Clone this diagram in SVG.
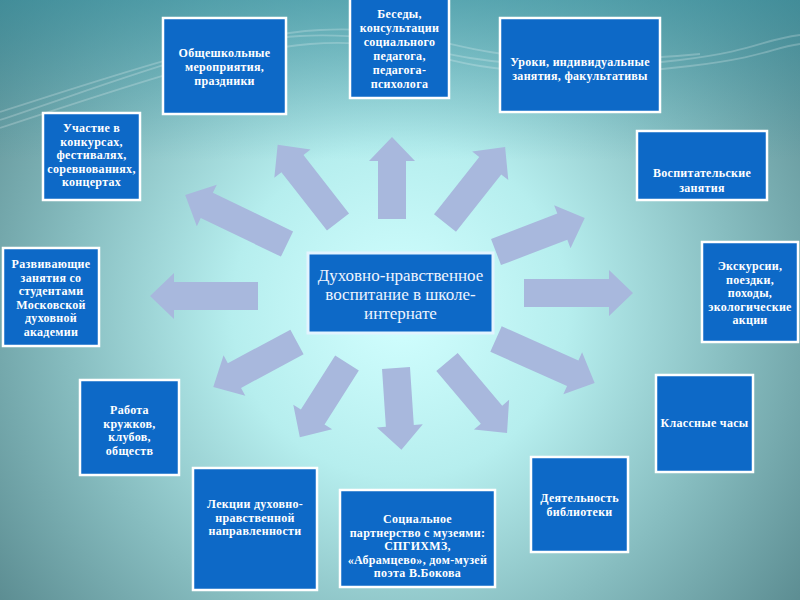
<svg xmlns="http://www.w3.org/2000/svg" width="800" height="600" viewBox="0 0 800 600">
<defs>
<radialGradient id="bg" cx="400" cy="310" r="560" gradientUnits="userSpaceOnUse">
<stop offset="0" stop-color="#d2ffff"/>
<stop offset="0.3" stop-color="#b6eeee"/>
<stop offset="0.6" stop-color="#86bcbf"/>
<stop offset="1" stop-color="#4b7a80"/>
</radialGradient>
<linearGradient id="top" x1="0" y1="0" x2="0" y2="1">
<stop offset="0" stop-color="#2f8fa0" stop-opacity="0.55"/>
<stop offset="1" stop-color="#2f8fa0" stop-opacity="0"/>
</linearGradient>
<style>
.box{fill:#0d69c7;stroke:#ffffff;stroke-width:2.5}
.t{font-family:"Liberation Serif","Times New Roman",serif;font-weight:bold;font-size:12px;letter-spacing:0.3px;fill:#ffffff;text-anchor:middle}
.c{font-family:"Liberation Serif","Times New Roman",serif;font-size:17px;fill:#eef4ff;text-anchor:middle}
.arr{fill:#a8b8dd}
.streak{fill:none;stroke:#ffffff;stroke-opacity:0.22;stroke-width:1.8}
</style>
</defs>
<rect x="0" y="0" width="800" height="600" fill="url(#bg)"/>
<rect x="0" y="0" width="800" height="160" fill="url(#top)"/>
<g id="streaks">
<path class="streak" d="M0,120 C120,80 220,40 300,36 S420,50 470,58 S600,70 680,60 S760,40 800,35"/>
<path class="streak" d="M0,128 C110,92 230,50 310,44 S430,58 480,66 S610,76 690,66 S770,48 800,44" stroke-opacity="0.15"/>
<path class="streak" d="M0,112 C130,70 240,34 320,30 S440,44 490,52 S620,62 700,54" stroke-opacity="0.12"/>
</g>
<g id="connectors">
<path class="arr" transform="translate(392,219) rotate(-90)" d="M0,-14 H58 V-23 L82,0 L58,23 V14 H0 Z"/>
<path class="arr" transform="translate(396,368) rotate(86.2)" d="M0,-14 H58 V-23 L82,0 L58,23 V14 H0 Z"/>
<path class="arr" transform="translate(258,296) rotate(180)" d="M0,-14 H84 V-23 L108,0 L84,23 V14 H0 Z"/>
<path class="arr" transform="translate(524,293)" d="M0,-14 H85 V-23 L109,0 L85,23 V14 H0 Z"/>
<path class="arr" transform="translate(338,222) rotate(232)" d="M0,-14 H74 V-23 L98,0 L74,23 V14 H0 Z"/>
<path class="arr" transform="translate(287,244) rotate(205.7)" d="M0,-14 H89 V-23 L113,0 L89,23 V14 H0 Z"/>
<path class="arr" transform="translate(445,223) rotate(-51.7)" d="M0,-14 H73 V-23 L97,0 L73,23 V14 H0 Z"/>
<path class="arr" transform="translate(496,252) rotate(-20.9)" d="M0,-14 H71 V-23 L95,0 L71,23 V14 H0 Z"/>
<path class="arr" transform="translate(496,339) rotate(24)" d="M0,-14 H84 V-23 L108,0 L84,23 V14 H0 Z"/>
<path class="arr" transform="translate(447,362) rotate(49.8)" d="M0,-14 H69 V-23 L93,0 L69,23 V14 H0 Z"/>
<path class="arr" transform="translate(297,342) rotate(151.8)" d="M0,-14 H71 V-23 L95,0 L71,23 V14 H0 Z"/>
<path class="arr" transform="translate(347,363) rotate(122.4)" d="M0,-14 H64 V-23 L88,0 L64,23 V14 H0 Z"/>
</g>
<g id="center">
<rect x="308" y="253" width="185" height="80" fill="#0d69c7" stroke="#e2f4ff" stroke-width="3"/>
<text class="c" x="400.5" y="281">Духовно-нравственное</text>
<text class="c" x="400.5" y="300">воспитание в школе-</text>
<text class="c" x="400.5" y="319">интернате</text>
</g>
<g id="n-obsh">
<rect class="box" x="163" y="18" width="123" height="96"/>
<text class="t" x="224.5" y="57">Общешкольные</text>
<text class="t" x="224.5" y="71">мероприятия,</text>
<text class="t" x="224.5" y="85">праздники</text>
</g>
<g id="n-besedy">
<rect class="box" x="350" y="-2" width="99" height="100"/>
<text class="t" x="399.5" y="18">Беседы,</text>
<text class="t" x="399.5" y="32">консультации</text>
<text class="t" x="399.5" y="46">социального</text>
<text class="t" x="399.5" y="60">педагога,</text>
<text class="t" x="399.5" y="74">педагога-</text>
<text class="t" x="399.5" y="88">психолога</text>
</g>
<g id="n-uroki">
<rect class="box" x="500" y="18" width="160" height="94"/>
<text class="t" x="580" y="66">Уроки, индивидуальные</text>
<text class="t" x="580" y="80">занятия, факультативы</text>
</g>
<g id="n-uchastie">
<rect class="box" x="43" y="113" width="97" height="87"/>
<text class="t" x="91.5" y="132">Участие в</text>
<text class="t" x="91.5" y="145.5">конкурсах,</text>
<text class="t" x="91.5" y="159">фестивалях,</text>
<text class="t" x="91.5" y="172.5">соревнованиях,</text>
<text class="t" x="91.5" y="186">концертах</text>
</g>
<g id="n-vospit">
<rect class="box" x="637" y="131" width="130" height="69"/>
<text class="t" x="702" y="177">Воспитательские</text>
<text class="t" x="702" y="192">занятия</text>
</g>
<g id="n-razviv">
<rect class="box" x="3" y="248" width="96" height="98"/>
<text class="t" x="51" y="268">Развивающие</text>
<text class="t" x="51" y="281.5">занятия со</text>
<text class="t" x="51" y="295">студентами</text>
<text class="t" x="51" y="308.5">Московской</text>
<text class="t" x="51" y="322">духовной</text>
<text class="t" x="51" y="335.5">академии</text>
</g>
<g id="n-ekskursii">
<rect class="box" x="702" y="242" width="96" height="100"/>
<text class="t" x="750" y="270">Экскурсии,</text>
<text class="t" x="750" y="283.5">поездки,</text>
<text class="t" x="750" y="297">походы,</text>
<text class="t" x="750" y="310.5">экологические</text>
<text class="t" x="750" y="324">акции</text>
</g>
<g id="n-rabota">
<rect class="box" x="80" y="380" width="99" height="95"/>
<text class="t" x="129.5" y="414">Работа</text>
<text class="t" x="129.5" y="427.5">кружков,</text>
<text class="t" x="129.5" y="441">клубов,</text>
<text class="t" x="129.5" y="454.5">обществ</text>
</g>
<g id="n-klassnye">
<rect class="box" x="656" y="375" width="97" height="97"/>
<text class="t" x="704.5" y="427">Классные часы</text>
</g>
<g id="n-lekcii">
<rect class="box" x="193" y="468" width="124" height="122"/>
<text class="t" x="255" y="508">Лекции духовно-</text>
<text class="t" x="255" y="521.5">нравственной</text>
<text class="t" x="255" y="535">направленности</text>
</g>
<g id="n-social">
<rect class="box" x="340" y="490" width="155" height="97"/>
<text class="t" x="417.5" y="523">Социальное</text>
<text class="t" x="417.5" y="536.5">партнерство с музеями:</text>
<text class="t" x="417.5" y="550">СПГИХМЗ,</text>
<text class="t" x="417.5" y="563.5">«Абрамцево», дом-музей</text>
<text class="t" x="417.5" y="577">поэта В.Бокова</text>
</g>
<g id="n-biblio">
<rect class="box" x="531" y="457" width="97" height="95"/>
<text class="t" x="579.5" y="502">Деятельность</text>
<text class="t" x="579.5" y="516">библиотеки</text>
</g>
</svg>
